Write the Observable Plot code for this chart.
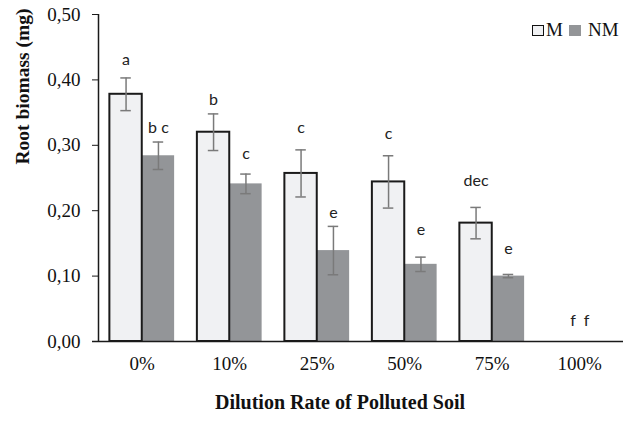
<!DOCTYPE html>
<html>
<head>
<meta charset="utf-8">
<script src="https://cdn.jsdelivr.net/npm/d3@7"></script>
<script src="https://cdn.jsdelivr.net/npm/@observablehq/plot@0.6"></script>
<style>
  html, body { margin: 0; padding: 0; background: #fff; }
  #wrap { position: relative; width: 636px; height: 421px; }
  #legend { position: absolute; top: 19px; left: 532px; font-family: "Liberation Serif", serif; font-size: 19px; color: #111; display: flex; align-items: center; white-space: nowrap; }
  .sw { display: inline-block; width: 10px; height: 9px; margin-right: 2px; }
</style>
</head>
<body>
<div id="wrap">
  <div id="legend">
    <span class="sw" style="background:#f0f1f3;border:1.5px solid #111;"></span><span style="margin-right:6px">M</span>
    <span class="sw" style="background:#939598;width:12px;height:11px;margin-right:7px"></span><span>NM</span>
  </div>
</div>
<script>
const categories = ["0%", "10%", "25%", "50%", "75%", "100%"];
const series = ["M", "NM"];
const mValues  = [0.378, 0.320, 0.257, 0.244, 0.181, 0];
const mErrors  = [0.025, 0.028, 0.036, 0.040, 0.024, null];
const nmValues = [0.284, 0.241, 0.139, 0.118, 0.100, 0];
const nmErrors = [0.021, 0.015, 0.037, 0.011, 0.0025, null];
const mLetters  = ["a", "b", "c", "c", "dec", ""];
const mLetterY  = [0.430, 0.370, 0.326, 0.317, 0.245, null];
const nmLetters = ["b c", "c", "e", "e", "e", ""];
const nmLetterY = [0.326, 0.287, 0.197, 0.170, 0.141, null];
const sharedLetters = ["", "", "", "", "", "f  f"];
const sharedLetterY = [null, null, null, null, null, 0.032];
const yTicks = [0, 0.1, 0.2, 0.3, 0.4, 0.5];

// layout constants (bar offsets within a category slot)
const barW = 0.37;
const seriesOffset = {M: -barW / 2, NM: barW / 2};

const rows = [];
categories.forEach((c, i) => {
  rows.push({cat: c, i, s: "M", v: mValues[i], e: mErrors[i], lab: mLetters[i], ly: mLetterY[i]});
  rows.push({cat: c, i, s: "NM", v: nmValues[i], e: nmErrors[i], lab: nmLetters[i], ly: nmLetterY[i]});
});
const errRows = rows.filter(d => d.e != null && d.v > 0);
const labRows = rows.filter(d => d.lab);
const sharedRows = categories.map((c, i) => ({cat: c, i, lab: sharedLetters[i], ly: sharedLetterY[i]})).filter(d => d.lab);

const mRows = rows.filter(d => d.s === "M");
const nmRows = rows.filter(d => d.s === "NM");

const fmt = d => d.toFixed(2).replace(".", ",");
const letterFont = "Lato, 'Open Sans', sans-serif";
const tickExt = 6 / 87.5;

const chart = Plot.plot({
  width: 636,
  height: 421,
  marginLeft: 98,
  marginRight: 13,
  marginTop: 14,
  marginBottom: 80,
  style: {fontFamily: "'Liberation Serif', serif", fontSize: "19px", color: "#111", background: "#fff"},
  x: {domain: [-0.5, categories.length - 0.5], axis: null},
  y: {domain: [0, 0.5], axis: null},
  marks: [
    Plot.rectY(nmRows, {x1: d => d.i, x2: d => d.i + barW, y1: 0, y2: "v", fill: "#939598"}),
    Plot.rectY(mRows.filter(d => d.v > 0), {x1: d => d.i - barW, x2: d => d.i, y1: 0, y2: "v", fill: "#f0f1f3", stroke: "#1a1a1a", strokeWidth: 2}),
    Plot.ruleX(errRows, {x: d => d.i + seriesOffset[d.s], y1: d => d.v - d.e, y2: d => d.v + d.e, stroke: "#7a7a7a", strokeWidth: 1.5}),
    Plot.ruleY(errRows, {y: d => d.v + d.e, x1: d => d.i + seriesOffset[d.s] - 0.06, x2: d => d.i + seriesOffset[d.s] + 0.06, stroke: "#7a7a7a", strokeWidth: 1.5}),
    Plot.ruleY(errRows, {y: d => d.v - d.e, x1: d => d.i + seriesOffset[d.s] - 0.06, x2: d => d.i + seriesOffset[d.s] + 0.06, stroke: "#7a7a7a", strokeWidth: 1.5}),
    Plot.text(labRows, {x: d => d.i + seriesOffset[d.s], y: "ly", text: "lab", fontFamily: letterFont, fontSize: 16, fill: "#222"}),
    Plot.text(sharedRows, {x: "i", y: "ly", text: "lab", fontFamily: letterFont, fontSize: 16, fill: "#222"}),
    Plot.ruleY([0], {x1: -0.5 - tickExt, x2: categories.length - 0.5, stroke: "#1a1a1a", strokeWidth: 1.5}),
    Plot.ruleX([-0.5], {y1: 0, y2: 0.5, stroke: "#1a1a1a", strokeWidth: 1.5}),
    Plot.axisY({ticks: yTicks, tickFormat: fmt, tickSize: 6, tickPadding: 12, stroke: "#1a1a1a", fontSize: 19, label: null}),
    Plot.axisX({ticks: d3.range(categories.length), tickFormat: i => categories[i], tickSize: 0, tickPadding: 15, fontSize: 19, label: null}),
    Plot.text(["Dilution Rate of Polluted Soil"], {frameAnchor: "bottom", dy: 67, dx: -21, fontWeight: "bold", fontSize: 20, fontFamily: "'Liberation Serif', serif"}),
    Plot.text(["Root biomass (mg)"], {frameAnchor: "top-left", rotate: -90, textAnchor: "end", lineAnchor: "middle", dx: -76, dy: -6, fontWeight: "bold", fontSize: 19.5, fontFamily: "'Liberation Serif', serif"})
  ]
});
document.getElementById("wrap").prepend(chart);
</script>
</body>
</html>
